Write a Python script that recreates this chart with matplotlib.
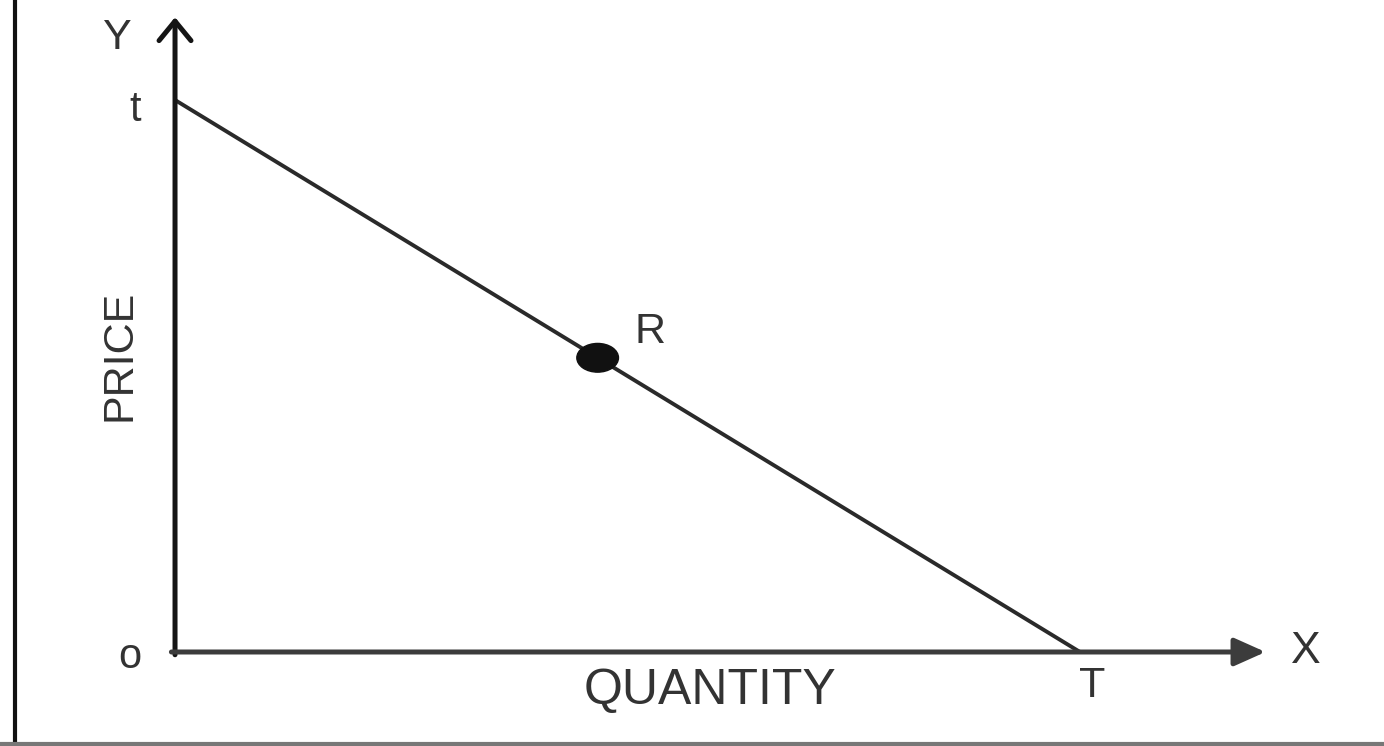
import matplotlib
matplotlib.use("Agg")
import matplotlib.pyplot as plt
from matplotlib.lines import Line2D
from matplotlib.patches import Ellipse

plt.rcParams['font.family'] = ['Liberation Sans', 'DejaVu Sans']

# demand line from t (on price axis) to T (on quantity axis)
quantity = [0.0, 10.0]
price = [10.0, 0.0]
# point R on the line
r_q = 4.67
r_p = 10.0 - r_q

fig = plt.figure(figsize=(13.84, 7.46), dpi=100)
ax = fig.add_axes([0, 0, 1, 1])
ax.set_xlim(-1.934, 13.359)
ax.set_ylim(-1.703, 11.812)
ax.axis('off')

# axes with arrows
ax.annotate('', xy=(0, 11.5), xytext=(0, -0.05),
            arrowprops=dict(arrowstyle='->,head_length=1.4,head_width=1.15',
                            lw=3.6, color='#151515', shrinkA=0, shrinkB=0))
ax.annotate('', xy=(12.05, 0), xytext=(-0.04, 0),
            arrowprops=dict(arrowstyle='-|>,head_length=1.9,head_width=0.85',
                            lw=3.6, color='#3c3c3c', shrinkA=0, shrinkB=0))

ax.plot(quantity, price, color='#2a2a2a', lw=2.8, solid_capstyle='butt')
ax.add_patch(Ellipse((r_q, r_p), 0.46, 0.52, color='#111111', zorder=3))

txt = dict(color='#333333', ha='center', va='center')
ax.text(-0.64, 11.12, 'Y', fontsize=31, **txt)
ax.text(-0.44, 9.82, 't', fontsize=30, **txt)
ax.text(-0.50, -0.09, 'o', fontsize=30, **txt)
ax.text(12.5, 0.0, 'X', fontsize=32, **txt)
ax.text(10.13, -0.62, 'T', fontsize=31, **txt)
ax.text(5.25, 5.8, 'R', fontsize=31, **txt)
ax.text(-0.61, 5.38, 'PRICE', fontsize=31, rotation=90, **txt)
ax.text(5.91, -0.70, 'QUANTITY', fontsize=36, **txt)

# frame around the picture
fig.add_artist(Line2D([0.0105, 0.0105], [0.0, 1.0], transform=fig.transFigure,
                      color='#111111', lw=3))
fig.add_artist(Line2D([0.0, 1.0], [0.003, 0.003], transform=fig.transFigure,
                      color='#777777', lw=3))

fig.savefig('out.png', dpi=100)
